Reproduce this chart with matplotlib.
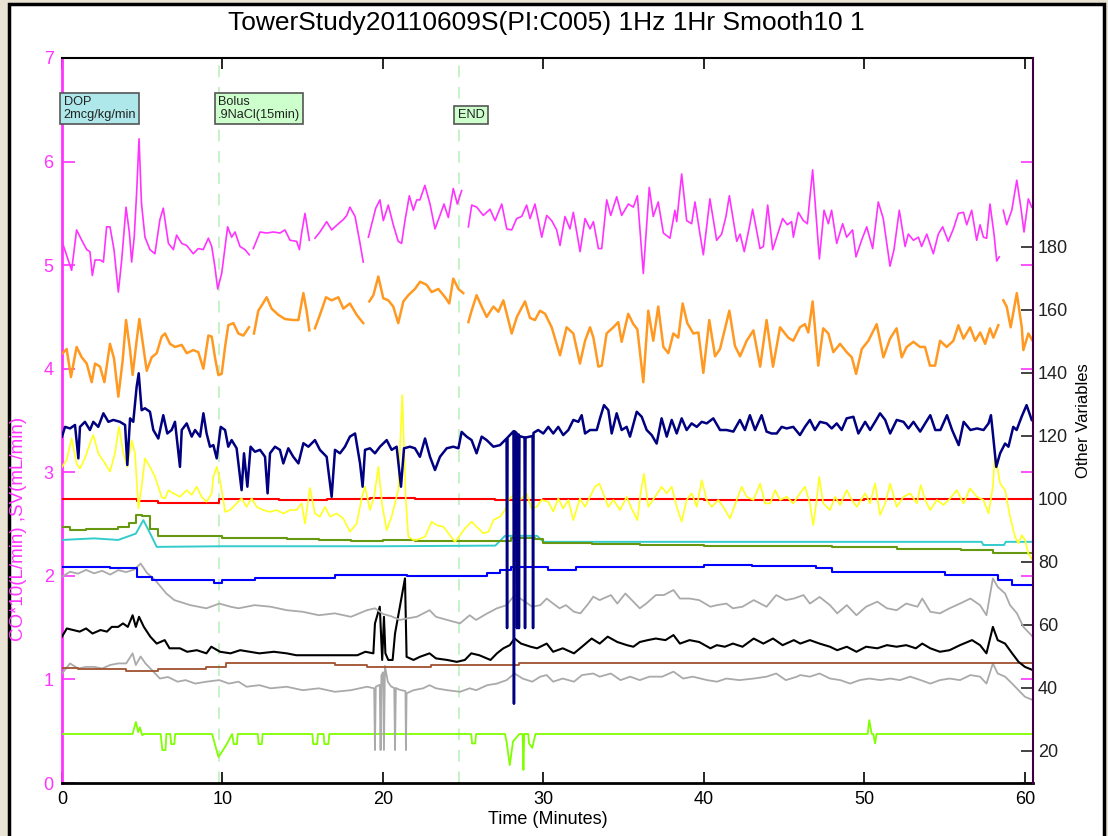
import numpy as np
import matplotlib.pyplot as plt
from matplotlib.patches import Rectangle

plt.rcParams['font.family'] = ['Liberation Sans', 'DejaVu Sans']

nan = np.nan

# ---- data (time in minutes) ----
# CO*10 (left axis)
co = [(0.04, 5.21), (0.6, 4.95), (0.91, 5.34), (1.23, 5.24), (1.54, 5.15), (1.74, 5.13), (1.89, 4.90),
      (2.06, 5.05), (2.37, 5.05), (2.58, 5.03), (2.78, 5.37), (2.99, 5.37), (3.24, 5.15), (3.51, 4.74),
      (3.72, 5.05), (3.99, 5.56), (4.2, 5.31), (4.34, 5.03), (4.5, 5.27), (4.65, 5.7), (4.8, 6.22),
      (4.95, 5.6), (5.17, 5.27), (5.48, 5.15), (5.79, 5.11), (6.1, 5.44), (6.31, 5.55), (6.63, 5.21),
      (6.94, 5.15), (7.14, 5.29), (7.46, 5.21), (7.77, 5.19), (8.18, 5.11), (8.49, 5.16), (8.8, 5.15),
      (9.12, 5.26), (9.33, 5.18), (9.53, 4.98), (9.7, 4.77), (9.95, 4.92), (10.32, 5.37), (10.57, 5.27),
      (10.78, 5.32), (11.09, 5.18), (11.4, 5.15), (11.67, 5.10), (11.8, nan), (11.92, 5.16), (12.34, 5.32),
      (12.75, 5.31), (13.17, 5.32), (13.58, 5.31), (13.89, 5.34), (14.21, 5.24), (14.62, 5.23), (14.79, 5.15),
      (14.93, 5.31), (15.14, 5.5), (15.41, 5.24), (15.6, nan), (15.76, 5.26), (16.07, 5.32), (16.49, 5.42),
      (16.8, 5.34), (17.22, 5.40), (17.53, 5.44), (17.74, 5.48), (17.94, 5.56), (18.26, 5.47), (18.57, 5.21),
      (18.77, 5.03), (18.9, nan), (19.09, 5.27), (19.29, 5.39), (19.55, 5.55), (19.81, 5.63), (20.02, 5.43),
      (20.33, 5.58), (20.64, 5.39), (20.95, 5.23), (21.16, 5.21), (21.37, 5.43), (21.64, 5.67), (21.89, 5.53),
      (22.1, 5.63), (22.3, 5.63), (22.61, 5.77), (22.93, 5.59), (23.24, 5.35), (23.55, 5.48), (23.8, 5.59),
      (24.07, 5.46), (24.38, 5.74), (24.63, 5.59), (24.9, 5.72), (25.05, nan), (25.32, 5.37), (25.53, 5.58),
      (25.84, 5.56), (26.25, 5.48), (26.67, 5.54), (26.98, 5.43), (27.4, 5.59), (27.71, 5.35), (28.02, 5.34),
      (28.33, 5.45), (28.64, 5.47), (28.95, 5.58), (29.16, 5.45), (29.47, 5.59), (29.89, 5.27), (30.2, 5.48),
      (30.51, 5.43), (30.82, 5.34), (31.03, 5.19), (31.34, 5.47), (31.65, 5.35), (31.86, 5.51), (32.28, 5.13),
      (32.59, 5.45), (32.9, 5.35), (33.11, 5.42), (33.42, 5.16), (33.63, 5.16), (33.94, 5.63), (34.19, 5.48),
      (34.56, 5.66), (34.87, 5.48), (35.29, 5.59), (35.6, 5.56), (35.85, 5.67), (36.22, 4.92), (36.59, 5.75),
      (36.84, 5.47), (37.15, 5.61), (37.47, 5.31), (37.88, 5.26), (38.19, 5.53), (38.3, 5.42), (38.61, 5.88),
      (38.92, 5.43), (39.23, 5.40), (39.44, 5.61), (39.7, 5.35), (39.96, 5.10), (40.37, 5.64), (40.79, 5.24),
      (41.1, 5.30), (41.37, 5.47), (41.58, 5.67), (42.04, 5.23), (42.25, 5.30), (42.51, 5.13), (42.83, 5.37),
      (43.03, 5.54), (43.49, 5.16), (43.7, 5.18), (43.97, 5.58), (44.28, 5.15), (44.53, 5.27), (44.9, 5.45),
      (45.19, 5.39), (45.46, 5.42), (45.57, 5.27), (45.88, 5.51), (46.19, 5.43), (46.44, 5.40), (46.77, 5.92),
      (47.19, 5.06), (47.48, 5.53), (47.75, 5.40), (47.95, 5.53), (48.27, 5.21), (48.64, 5.40), (48.89, 5.27),
      (49.26, 5.34), (49.47, 5.08), (49.82, 5.24), (50.14, 5.37), (50.51, 5.16), (50.86, 5.61), (51.17, 5.45),
      (51.59, 4.99), (51.84, 5.15), (52.17, 5.53), (52.53, 5.18), (52.73, 5.30), (53.05, 5.24), (53.36, 5.27),
      (53.56, 5.18), (53.88, 5.30), (54.29, 5.11), (54.6, 5.30), (54.87, 5.37), (55.22, 5.23), (55.54, 5.35),
      (55.85, 5.50), (56.17, 5.51), (56.37, 5.39), (56.68, 5.53), (56.99, 5.24), (57.2, 5.39), (57.41, 5.27),
      (57.61, 5.26), (57.82, 5.59), (58.07, 5.30), (58.24, 5.04), (58.4, 5.08), (58.52, nan), (58.65, 5.53),
      (58.86, 5.39), (59.18, 5.53), (59.49, 5.82), (59.74, 5.56), (59.94, 5.32), (60.21, 5.64), (60.42, 5.56)]

# SV (left axis)
sv = [(0.04, 4.15), (0.29, 4.19), (0.56, 3.92), (0.91, 4.21), (1.23, 4.11), (1.54, 4.05), (1.85, 3.87),
      (2.06, 4.05), (2.37, 4.02), (2.64, 3.87), (2.99, 4.24), (3.24, 4.10), (3.51, 3.73), (3.78, 4.08),
      (3.99, 4.47), (4.24, 4.18), (4.4, 3.94), (4.65, 4.27), (4.82, 4.48), (5.07, 4.21), (5.28, 3.98),
      (5.59, 4.11), (5.9, 4.15), (6.21, 4.31), (6.42, 4.34), (6.73, 4.24), (7.04, 4.21), (7.46, 4.23),
      (7.77, 4.15), (8.18, 4.18), (8.49, 4.16), (8.81, 4.00), (9.12, 4.32), (9.33, 4.31), (9.53, 4.11),
      (9.74, 3.94), (9.95, 3.95), (10.16, 4.21), (10.36, 4.42), (10.68, 4.44), (10.99, 4.34), (11.3, 4.32),
      (11.65, 4.40), (11.8, nan), (11.96, 4.34), (12.23, 4.56), (12.44, 4.61), (12.75, 4.69), (13.06, 4.58),
      (13.48, 4.52), (13.89, 4.48), (14.41, 4.47), (14.73, 4.47), (15.04, 4.73), (15.24, 4.56), (15.41, 4.37),
      (15.6, nan), (15.76, 4.39), (16.07, 4.52), (16.45, 4.69), (16.8, 4.66), (17.22, 4.69), (17.53, 4.58),
      (17.94, 4.63), (18.36, 4.52), (18.77, 4.44), (18.9, nan), (19.15, 4.65), (19.4, 4.71), (19.71, 4.89),
      (20.02, 4.68), (20.33, 4.66), (20.64, 4.60), (20.95, 4.44), (21.27, 4.65), (21.58, 4.71), (21.99, 4.77),
      (22.31, 4.84), (22.72, 4.81), (23.03, 4.74), (23.45, 4.77), (23.87, 4.69), (24.13, 4.63), (24.38, 4.87),
      (24.7, 4.77), (25.0, 4.73), (25.12, nan), (25.32, 4.45), (25.52, 4.56), (25.83, 4.71), (26.15, 4.60),
      (26.46, 4.50), (26.88, 4.60), (27.19, 4.55), (27.5, 4.66), (28.02, 4.34), (28.34, 4.50), (28.85, 4.65),
      (29.16, 4.49), (29.47, 4.47), (29.78, 4.56), (30.1, 4.53), (30.51, 4.40), (31.03, 4.13), (31.44, 4.40),
      (31.86, 4.34), (32.27, 4.05), (32.59, 4.27), (32.9, 4.40), (33.11, 4.30), (33.42, 4.02), (33.63, 4.03),
      (33.93, 4.34), (34.35, 4.40), (34.66, 4.45), (34.87, 4.26), (35.28, 4.53), (35.6, 4.43), (35.85, 4.38),
      (36.22, 3.87), (36.53, 4.56), (36.84, 4.27), (37.15, 4.60), (37.47, 4.21), (37.78, 4.15), (38.09, 4.34),
      (38.4, 4.30), (38.67, 4.63), (38.96, 4.44), (39.34, 4.34), (39.65, 4.35), (39.96, 3.96), (40.33, 4.47),
      (40.69, 4.12), (41.0, 4.19), (41.58, 4.56), (41.93, 4.22), (42.25, 4.12), (42.66, 4.27), (43.08, 4.37),
      (43.5, 4.02), (43.9, 4.47), (44.3, 4.02), (44.74, 4.40), (45.25, 4.30), (45.56, 4.27), (45.98, 4.40),
      (46.29, 4.43), (46.5, 4.35), (46.77, 4.65), (47.12, 4.03), (47.43, 4.39), (47.75, 4.34), (48.06, 4.16),
      (48.48, 4.24), (48.89, 4.16), (49.21, 4.11), (49.48, 3.95), (49.83, 4.19), (50.24, 4.27), (50.76, 4.43),
      (51.18, 4.11), (51.59, 4.29), (52.0, 4.39), (52.32, 4.11), (52.63, 4.21), (53.05, 4.26), (53.46, 4.21),
      (53.77, 4.21), (54.08, 4.03), (54.4, 4.03), (54.71, 4.27), (55.12, 4.21), (55.54, 4.27), (55.85, 4.42),
      (56.17, 4.29), (56.58, 4.40), (56.9, 4.27), (57.21, 4.35), (57.52, 4.24), (57.82, 4.39), (58.03, 4.30),
      (58.34, 4.42), (58.5, nan), (58.65, 4.66), (58.86, 4.60), (59.11, 4.40), (59.49, 4.73), (59.8, 4.40),
      (59.9, 4.18), (60.21, 4.34), (60.48, 4.27)]

# other variables (right axis)
navy = [(0, 119.8), (0.19, 122.9), (0.5, 122.4), (0.81, 123.5), (1.02, 112.9), (1.12, 122.9), (1.43, 124.5),
        (1.74, 121.9), (1.95, 124.5), (2.26, 122.9), (2.58, 127.2), (2.89, 124.5), (3.2, 125.1), (3.61, 124.5),
        (3.93, 123.5), (4.07, 110.8), (4.24, 125.6), (4.44, 124.5), (4.65, 135.6), (4.78, 139.9), (4.96, 128.2),
        (5.17, 128.8), (5.48, 127.7), (5.69, 121.9), (6.0, 119.2), (6.31, 126.6), (6.56, 120.8), (6.83, 121.9),
        (7.04, 124.5), (7.35, 110.2), (7.46, 121.9), (7.77, 124.0), (8.08, 119.8), (8.29, 121.9), (8.6, 119.8),
        (8.81, 127.2), (9.01, 120.8), (9.22, 116.6), (9.43, 117.1), (9.64, 112.9), (9.89, 122.9), (10.16, 121.9),
        (10.36, 116.6), (10.57, 118.7), (10.88, 116.1), (11.19, 102.8), (11.34, 114.5), (11.55, 103.9),
        (11.75, 116.6), (12.02, 115.0), (12.34, 115.6), (12.65, 113.4), (12.81, 101.8), (12.96, 114.5),
        (13.27, 116.6), (13.58, 115.6), (13.79, 111.3), (14.1, 116.1), (14.41, 113.4), (14.73, 111.3),
        (15.04, 117.7), (15.35, 116.6), (15.76, 118.7), (16.07, 115.6), (16.49, 113.4), (16.8, 100.7),
        (17.01, 115.6), (17.32, 114.5), (17.63, 116.6), (17.94, 119.8), (18.26, 120.8), (18.57, 111.3),
        (18.73, 103.9), (18.88, 115.6), (19.19, 116.1), (19.5, 114.5), (19.81, 116.6), (20.23, 118.7),
        (20.54, 115.6), (20.85, 116.6), (21.12, 103.9), (21.31, 116.1), (21.68, 116.6), (21.99, 116.1),
        (22.3, 113.4), (22.62, 119.2), (22.93, 113.4), (23.24, 109.2), (23.55, 113.4), (23.97, 116.1),
        (24.38, 116.6), (24.7, 116.1), (24.9, 121.3), (25.21, 119.8), (25.52, 118.7), (25.83, 114.5),
        (26.15, 119.8), (26.46, 118.7), (26.88, 116.6), (27.29, 117.1), (27.7, 119.2), (27.73, 59.0),
        (27.76, 119.5), (28.13, 121.5), (28.16, 35.0), (28.19, 121.5), (28.32, 121.0), (28.35, 59.0),
        (28.38, 120.5), (28.45, 120.5), (28.47, 59.0), (28.5, 120.0), (28.82, 119.5), (28.85, 59.0),
        (28.88, 119.5), (29.32, 120.0), (29.35, 59.0), (29.38, 121.0), (29.67, 121.9), (29.99, 120.8),
        (30.3, 122.9), (30.61, 120.8), (30.92, 122.9), (31.23, 120.3), (31.55, 121.9), (31.86, 125.1),
        (32.17, 124.5), (32.38, 126.6), (32.59, 120.8), (32.9, 121.9), (33.32, 121.9), (33.52, 125.6),
        (33.77, 129.8), (34.04, 128.2), (34.25, 120.8), (34.56, 127.2), (34.87, 121.9), (35.18, 122.9),
        (35.39, 119.8), (35.81, 127.7), (36.12, 126.1), (36.43, 121.9), (36.74, 120.3), (37.05, 117.6),
        (37.36, 125.6), (37.68, 119.8), (37.99, 125.1), (38.3, 120.8), (38.61, 125.6), (38.92, 121.9),
        (39.23, 124.0), (39.55, 122.9), (39.86, 124.5), (40.17, 124.0), (40.58, 125.6), (41.0, 121.9),
        (41.41, 121.9), (41.83, 121.4), (42.24, 125.1), (42.55, 121.9), (42.86, 126.6), (43.18, 121.9),
        (43.59, 126.6), (43.9, 121.4), (44.21, 120.8), (44.53, 120.8), (44.84, 122.9), (45.15, 122.4),
        (45.56, 122.9), (45.98, 120.3), (46.29, 122.9), (46.6, 125.1), (46.91, 121.9), (47.23, 124.5),
        (47.64, 124.0), (47.96, 122.4), (48.27, 124.0), (48.58, 121.9), (48.89, 125.6), (49.31, 126.1),
        (49.62, 120.8), (50.04, 124.5), (50.35, 121.9), (50.66, 124.5), (50.97, 127.2), (51.29, 125.1),
        (51.6, 120.8), (52.01, 125.1), (52.43, 124.5), (52.74, 122.4), (53.05, 124.5), (53.47, 121.4),
        (53.78, 124.0), (54.1, 126.6), (54.41, 121.9), (54.73, 121.9), (55.14, 126.6), (55.46, 121.9),
        (55.87, 117.1), (56.18, 124.5), (56.6, 121.9), (57.01, 122.4), (57.42, 121.9), (57.73, 124.0),
        (57.88, 126.6), (58.0, 120.8), (58.21, 110.2), (58.45, 114.5), (58.76, 117.6), (58.97, 116.6),
        (59.27, 122.9), (59.48, 121.9), (59.79, 126.1), (60.1, 129.8), (60.42, 125.1)]

yellow = [(0, 110.2), (0.29, 112.4), (0.6, 119.2), (0.91, 111.3), (1.12, 109.7), (1.43, 112.9), (1.74, 117.6),
          (1.95, 120.3), (2.26, 114.5), (2.68, 111.3), (2.99, 108.7), (3.3, 114.5), (3.55, 122.9), (3.82, 114.5),
          (4.07, 110.2), (4.34, 118.7), (4.55, 114.5), (4.76, 97.0), (4.96, 103.9), (5.17, 112.9), (5.48, 110.2),
          (5.79, 107.1), (6.0, 103.9), (6.21, 100.5), (6.42, 100.2), (6.63, 102.8), (6.94, 101.8), (7.35, 100.7),
          (7.77, 102.8), (8.08, 101.3), (8.39, 103.9), (8.7, 100.7), (9.01, 99.1), (9.33, 101.8), (9.43, 107.1),
          (9.64, 110.2), (9.84, 106.0), (10.05, 99.7), (10.16, 95.9), (10.47, 96.5), (10.88, 98.6), (11.19, 100.2),
          (11.5, 97.5), (11.82, 100.2), (12.13, 97.5), (12.54, 96.5), (12.96, 95.9), (13.37, 96.5), (13.79, 95.4),
          (14.21, 96.5), (14.62, 96.5), (14.93, 98.6), (15.14, 92.2), (15.45, 103.5), (15.76, 95.4), (16.07, 94.4),
          (16.39, 97.5), (16.7, 94.4), (17.11, 95.4), (17.53, 93.8), (17.94, 89.6), (18.36, 92.2), (18.67, 100.2),
          (18.88, 103.9), (19.19, 96.5), (19.45, 100.7), (19.71, 110.2), (19.95, 98.0), (20.23, 90.1),
          (20.54, 94.4), (20.95, 102.8), (21.2, 133.0), (21.42, 100.0), (21.58, 88.0), (21.89, 87.0), (22.1, 87.0),
          (22.62, 88.0), (23.03, 92.8), (23.34, 91.7), (23.76, 91.2), (24.17, 88.5), (24.48, 86.4), (24.8, 88.5),
          (25.11, 90.7), (25.52, 92.8), (25.83, 91.2), (26.25, 89.1), (26.57, 89.6), (26.88, 93.3), (27.29, 94.4),
          (27.6, 96.5), (27.81, 99.7), (28.22, 101.8), (28.53, 99.7), (28.95, 101.8), (29.26, 97.0), (29.57, 97.5),
          (29.88, 99.7), (30.3, 99.1), (30.61, 96.0), (30.92, 100.2), (31.23, 97.0), (31.55, 99.7), (31.86, 93.3),
          (32.27, 100.2), (32.59, 97.5), (32.9, 100.7), (33.21, 103.9), (33.48, 104.9), (33.72, 101.8),
          (34.04, 97.5), (34.35, 99.7), (34.77, 96.5), (35.18, 100.7), (35.49, 97.0), (35.85, 93.3),
          (36.05, 101.8), (36.26, 108.0), (36.53, 97.5), (36.95, 100.7), (37.36, 103.9), (37.68, 101.8),
          (37.99, 103.9), (38.3, 97.5), (38.61, 92.8), (38.92, 99.7), (39.23, 101.8), (39.55, 97.5),
          (39.86, 106.0), (40.17, 99.7), (40.48, 97.5), (40.89, 99.7), (41.2, 97.5), (41.62, 93.8), (42.04, 99.7),
          (42.35, 103.9), (42.66, 100.7), (43.08, 99.7), (43.5, 104.9), (43.81, 98.6), (44.12, 98.6),
          (44.43, 102.8), (44.74, 99.7), (45.15, 100.7), (45.56, 98.6), (45.98, 101.8), (46.29, 103.9),
          (46.6, 98.6), (46.81, 91.7), (47.02, 99.7), (47.18, 107.0), (47.43, 98.6), (47.85, 96.5), (48.17, 100.7),
          (48.48, 98.1), (48.89, 102.8), (49.21, 99.7), (49.52, 97.5), (50.04, 101.8), (50.35, 98.6),
          (50.66, 104.9), (50.97, 94.9), (51.29, 98.6), (51.6, 104.9), (52.01, 97.5), (52.43, 100.7),
          (52.85, 101.8), (53.26, 98.6), (53.51, 104.4), (53.78, 99.7), (54.1, 96.5), (54.51, 99.7),
          (54.92, 98.1), (55.34, 100.2), (55.75, 102.8), (56.17, 98.6), (56.58, 103.4), (57.0, 100.7),
          (57.41, 99.7), (57.73, 95.4), (58.0, 103.9), (58.13, 114.5), (58.45, 104.9), (58.76, 102.8),
          (59.07, 94.4), (59.38, 88.0), (59.59, 85.9), (59.8, 88.5), (60.0, 87.0), (60.21, 82.7), (60.48, 80.6)]

red = [(0, 100.0), (4.7, 99.5), (6.0, 98.8), (9.8, 100.0), (13.5, 99.6), (16.5, 100.0), (19.2, 100.4),
       (22.0, 100.0), (27.0, 99.6), (30.0, 100.0), (40.0, 99.6), (50.0, 100.0), (60.5, 100.0)]

olive = [(0, 91.0), (0.5, 90.3), (1.5, 90.5), (2.5, 90.5), (3.5, 91.2), (4.2, 92.5), (4.6, 95.0), (5.0, 94.5),
         (5.5, 90.5), (6.0, 88.3), (8.0, 88.3), (10.0, 87.6), (12.0, 87.6), (14.0, 87.3), (16.0, 87.0),
         (18.0, 86.8), (20.0, 87.0), (22.0, 86.6), (27.0, 86.6), (28.0, 87.6), (29.5, 87.3), (30.0, 86.0),
         (33.0, 85.8), (36.0, 85.5), (40.0, 85.0), (44.0, 85.0), (48.0, 84.8), (52.0, 84.0), (56.0, 83.8),
         (58.0, 82.8), (60.5, 82.5)]

cyan = [(0, 87.0), (2.0, 87.5), (3.5, 87.0), (4.6, 89.0), (5.07, 93.3), (5.5, 89.0), (5.9, 84.8), (10.0, 85.0),
        (20.0, 85.0), (27.0, 85.2), (27.6, 88.3), (29.6, 88.3), (30.0, 86.4), (45.0, 86.4), (57.3, 86.4),
        (57.4, 85.4), (58.7, 85.4), (58.8, 86.4), (60.5, 86.4)]

blue = [(0, 78.5), (3.0, 78.0), (4.7, 75.3), (5.6, 74.3), (9.5, 73.2), (10.0, 74.3), (12.0, 74.8), (17.0, 75.8),
        (21.5, 75.5), (26.5, 76.4), (27.3, 77.4), (28.0, 78.3), (30.3, 77.4), (32.0, 78.3), (40.0, 79.0),
        (43.0, 78.7), (47.0, 78.0), (48.0, 76.9), (55.0, 75.8), (58.3, 74.3), (59.2, 72.7), (60.5, 72.7)]

gray_hi = [(0, 75.3), (0.5, 76.9), (1.0, 76.3), (1.5, 77.5), (2.0, 76.4), (2.5, 77.2), (3.0, 76.0), (3.5, 77.4),
           (4.0, 76.8), (4.5, 77.6), (4.9, 79.5), (5.3, 76.5), (5.8, 74.3), (6.5, 70.0), (7.0, 67.9), (8.0, 66.3),
           (9.0, 65.3), (9.8, 66.8), (10.5, 65.8), (11.0, 65.3), (12.0, 66.3), (13.0, 65.8), (14.0, 64.7),
           (15.0, 64.2), (16.0, 63.1), (17.0, 63.7), (18.0, 62.6), (19.0, 64.7), (19.5, 65.3), (20.0, 63.5),
           (20.5, 62.8), (21.06, 61.6), (21.5, 62.1), (22.1, 62.6), (22.9, 64.7), (23.3, 62.6), (24.0, 61.6),
           (24.8, 60.5), (25.4, 63.1), (25.8, 61.6), (26.5, 63.7), (27.1, 65.3), (27.7, 66.3), (28.2, 69.5),
           (28.7, 67.9), (29.3, 65.8), (29.8, 66.3), (30.2, 68.4), (30.6, 66.8), (31.0, 65.3), (31.4, 66.3),
           (31.9, 64.2), (32.3, 63.7), (32.8, 66.8), (33.1, 69.0), (33.5, 67.9), (34.2, 69.5), (34.6, 66.8),
           (35.1, 70.0), (35.6, 67.4), (36.0, 65.3), (36.4, 66.8), (37.0, 69.5), (37.5, 69.5), (38.1, 71.1),
           (38.5, 68.4), (39.1, 68.4), (39.7, 67.9), (40.4, 65.8), (40.8, 66.3), (41.4, 66.8), (41.8, 65.3),
           (42.4, 65.8), (43.1, 67.9), (43.9, 65.8), (44.5, 69.5), (45.1, 67.9), (45.6, 68.4), (46.2, 69.5),
           (46.6, 66.8), (47.2, 68.9), (47.85, 66.3), (48.3, 63.7), (48.9, 66.3), (49.5, 63.1), (50.1, 65.8),
           (50.8, 67.4), (51.4, 65.3), (52.0, 64.7), (52.6, 66.8), (53.3, 65.8), (53.6, 68.4), (54.1, 64.2),
           (54.7, 63.7), (55.3, 65.3), (55.95, 66.8), (56.6, 68.4), (57.2, 66.3), (57.6, 63.1), (58.0, 74.8),
           (58.3, 72.1), (58.76, 70.0), (59.07, 66.3), (59.5, 63.7), (59.9, 59.4), (60.48, 56.3)]

black = [(0, 56.3), (0.3, 58.9), (0.7, 58.4), (1.1, 57.9), (1.5, 58.9), (1.9, 57.3), (2.4, 58.4), (2.8, 57.9),
         (3.1, 59.4), (3.5, 59.4), (3.8, 60.5), (4.1, 59.4), (4.4, 63.1), (4.6, 59.4), (4.8, 62.6), (5.1, 59.4),
         (5.5, 56.3), (5.9, 54.1), (6.4, 55.2), (6.7, 52.6), (7.35, 52.6), (7.8, 51.5), (8.4, 52.0), (9.0, 51.0),
         (9.3, 53.1), (9.85, 51.5), (10.5, 51.0), (11.1, 52.0), (11.7, 51.5), (12.3, 51.0), (13.2, 51.5),
         (14.0, 51.0), (14.6, 50.4), (15.2, 50.4), (16.1, 50.4), (16.9, 50.4), (17.7, 50.4), (18.4, 50.4),
         (18.9, 51.5), (19.4, 51.0), (19.5, 60.5), (19.8, 65.8), (19.95, 48.9), (20.06, 62.6), (20.15, 51.0),
         (20.33, 48.9), (20.6, 48.9), (20.75, 57.3), (21.37, 74.8), (21.47, 49.9), (21.9, 48.9), (22.3, 49.9),
         (22.9, 51.0), (23.3, 49.4), (24.0, 48.9), (24.6, 48.3), (25.1, 48.9), (25.5, 51.0), (26.0, 50.4),
         (26.7, 48.9), (27.1, 51.0), (27.5, 52.6), (27.9, 53.6), (28.2, 55.7), (28.6, 54.1), (29.2, 53.1),
         (29.6, 52.6), (30.2, 54.1), (30.6, 51.5), (31.2, 52.6), (31.9, 51.0), (32.4, 53.1), (33.0, 55.7),
         (33.5, 54.1), (34.0, 56.3), (34.6, 54.6), (35.2, 53.6), (35.6, 53.1), (36.0, 54.6), (36.5, 55.2),
         (37.0, 55.7), (37.6, 55.2), (38.1, 56.8), (38.5, 54.1), (39.1, 55.2), (39.7, 54.6), (40.4, 52.6),
         (40.8, 53.6), (41.3, 53.1), (41.8, 54.1), (42.4, 53.1), (43.1, 55.7), (43.7, 54.1), (44.3, 55.7),
         (44.9, 53.6), (45.6, 55.2), (46.0, 54.1), (46.6, 55.2), (47.2, 54.1), (47.85, 53.1), (48.3, 52.0),
         (48.9, 53.1), (49.5, 51.5), (50.1, 53.1), (50.8, 52.6), (51.4, 53.6), (52.0, 53.1), (52.6, 53.6),
         (53.2, 52.6), (53.6, 54.1), (54.1, 52.6), (54.7, 51.5), (55.3, 52.0), (55.95, 53.6), (56.7, 55.2),
         (57.2, 53.6), (57.6, 51.0), (58.0, 59.4), (58.3, 55.2), (58.76, 54.1), (59.2, 51.0), (59.6, 48.3),
         (60.0, 46.7), (60.48, 45.7)]

brown = [(0, 46.2), (1.0, 46.0), (4.0, 45.5), (6.0, 46.0), (9.0, 46.7), (10.2, 47.8), (17.0, 47.3),
         (19.0, 46.7), (23.0, 47.3), (28.5, 48.0), (60.5, 48.0)]

gray_lo = [(0, 44.6), (0.5, 47.8), (1.0, 46.2), (1.5, 46.7), (2.0, 46.7), (2.5, 46.2), (3.0, 47.3), (3.5, 47.8),
           (4.0, 47.8), (4.4, 51.0), (4.6, 47.3), (4.9, 50.0), (5.2, 47.8), (5.6, 45.7), (6.1, 43.0), (6.6, 43.5),
           (7.2, 42.0), (7.7, 42.5), (8.3, 41.4), (9.0, 42.0), (9.8, 42.5), (10.4, 41.4), (11.0, 42.0),
           (11.5, 40.4), (12.3, 40.9), (13.0, 39.9), (14.0, 40.4), (15.0, 39.3), (16.0, 39.9), (17.0, 38.8),
           (18.0, 39.3), (19.0, 40.4), (19.45, 39.9), (19.5, 20.3), (19.55, 40.4), (19.8, 41.0), (19.85, 20.3),
           (19.9, 44.0), (20.0, 45.0), (20.06, 20.3), (20.12, 47.0), (20.3, 42.0), (20.5, 40.5), (20.7, 40.0),
           (20.75, 20.3), (20.8, 40.0), (21.0, 39.5), (21.4, 39.0), (21.43, 20.3), (21.47, 38.3), (21.9, 39.3),
           (22.5, 39.9), (22.9, 40.9), (23.3, 39.9), (24.0, 39.3), (24.8, 38.8), (25.4, 39.9), (25.8, 39.3),
           (26.5, 40.9), (27.1, 41.4), (27.7, 42.5), (28.2, 44.6), (28.7, 43.0), (29.3, 42.0), (29.8, 43.6),
           (30.2, 44.1), (30.6, 42.0), (31.2, 43.0), (31.9, 42.0), (32.4, 44.1), (33.1, 44.6), (33.5, 43.6),
           (34.2, 44.6), (34.8, 42.5), (35.4, 43.6), (36.0, 42.5), (36.6, 43.6), (37.4, 43.6), (38.1, 45.2),
           (38.7, 43.0), (39.3, 43.6), (40.2, 42.5), (40.8, 42.0), (41.4, 43.0), (42.2, 42.5), (43.1, 43.0),
           (43.9, 43.6), (44.5, 44.6), (45.1, 42.5), (45.8, 43.6), (46.0, 44.1), (46.6, 43.6), (47.2, 44.6),
           (47.85, 43.0), (48.5, 42.5), (49.1, 41.4), (49.7, 42.5), (50.3, 43.0), (51.0, 42.5), (51.6, 43.0),
           (52.2, 42.5), (52.85, 43.6), (53.5, 42.5), (54.1, 41.4), (54.7, 42.5), (55.3, 43.0), (55.95, 42.5),
           (56.6, 44.1), (57.2, 43.6), (57.6, 41.4), (58.0, 47.8), (58.3, 44.6), (58.76, 43.6), (59.2, 41.4),
           (59.6, 39.3), (60.0, 37.2), (60.48, 36.2)]

lime = [(0, 25.4), (4.4, 25.4), (4.6, 29.2), (4.75, 26.0), (4.85, 27.5), (5.0, 25.0), (5.1, 25.4), (6.15, 25.4),
        (6.25, 20.3), (6.45, 20.3), (6.5, 25.4), (6.75, 25.4), (6.8, 22.2), (7.0, 22.2), (7.05, 25.4),
        (9.35, 25.4), (9.75, 18.1), (10.0, 20.0), (10.3, 22.5), (10.6, 25.4), (10.7, 22.2), (10.9, 22.2),
        (10.95, 25.4), (12.2, 25.4), (12.25, 22.2), (12.45, 22.2), (12.5, 25.4), (15.6, 25.4), (15.65, 22.2),
        (15.9, 22.2), (15.95, 25.4), (16.3, 25.4), (16.35, 22.2), (16.6, 22.2), (16.65, 25.4), (25.5, 25.4),
        (25.55, 22.4), (25.75, 22.4), (25.8, 25.4), (27.6, 25.4), (27.7, 23.0), (27.9, 15.5), (28.1, 23.0),
        (28.5, 25.4), (28.7, 25.4), (28.75, 14.0), (28.8, 25.4), (29.05, 25.4), (29.1, 22.4), (29.3, 21.0),
        (29.5, 25.4), (50.2, 25.4), (50.3, 29.8), (50.45, 25.4), (50.55, 25.4), (50.66, 22.4), (50.75, 25.4),
        (60.5, 25.4)]

events = [(0.1, 'DOP\n2mcg/kg/min', '#aee8ea'), (9.72, 'Bolus\n.9NaCl(15min)', '#ccffcc'),
          (24.65, 'END', '#ccffcc')]
event_lines = [9.8, 24.75]

MAG = '#ff33ff'

fig = plt.figure(figsize=(11.08, 8.36), dpi=100, facecolor='#e9e3d3')
fig.patches.append(Rectangle((9 / 1108, -0.02), 1095 / 1108, 1.02 - 4 / 836, transform=fig.transFigure,
                             facecolor='white', edgecolor='black', lw=2.5, zorder=-5))

ax = fig.add_axes([62 / 1108, 1 - 783 / 836, 971 / 1108, 725 / 836])
ax.set_facecolor('none')
ax2 = ax.twinx()


def xy(pairs):
    t, v = zip(*pairs)
    return np.array(t), np.array(v)


for x0 in event_lines:
    ax.axvline(x0, color='#c6f2c6', lw=1.4, ls=(0, (6, 5)), zorder=1)

ax2.plot(*xy(lime), color='#7fff00', lw=1.3)
ax2.plot(*xy(gray_lo), color='#aaaaaa', lw=1.3)
ax2.plot(*xy(brown), color='#a0522d', lw=1.3, drawstyle='steps-post')
ax2.plot(*xy(black), color='black', lw=1.5)
ax2.plot(*xy(gray_hi), color='#aaaaaa', lw=1.3)
ax2.plot(*xy(blue), color='#0000ff', lw=1.5, drawstyle='steps-post')
ax2.plot(*xy(cyan), color='#33cccc', lw=1.4)
ax2.plot(*xy(olive), color='#669911', lw=1.5, drawstyle='steps-post')
ax2.plot(*xy(red), color='#ff0000', lw=1.5, drawstyle='steps-post')
ax2.plot(*xy(yellow), color='#ffff22', lw=1.2)
ax2.plot(*xy(navy), color='#000080', lw=1.8)
ax.plot(*xy(sv), color='#ff9922', lw=1.8, zorder=3)
ax.plot(*xy(co), color=MAG, lw=1.2, zorder=3)

for x0, label, fc in events:
    ax.text(x0, 6.39, label, fontsize=9.2, ha='left', va='bottom', color='#222222', linespacing=1.1,
            bbox=dict(boxstyle='square,pad=0.25', fc=fc, ec='#555555', lw=1.2), zorder=6)

ax.set_xlim(0, 60.5)
ax.set_ylim(0, 7)
ax2.set_ylim(9.84, 240)
ax.set_xticks(range(0, 61, 10))
ax.set_yticks(range(0, 8))
ax2.set_yticks(range(20, 181, 20))

ax.tick_params(axis='x', direction='in', length=8, width=1.2, top=True, labelsize=13, pad=6)
ax.tick_params(axis='y', direction='in', length=9, width=1.2, left=True, right=True,
               colors=MAG, labelsize=13, pad=6)
ax2.tick_params(axis='y', direction='in', length=9, width=1.2, colors='#222222', labelsize=13)

ax.spines['left'].set_color(MAG)
ax.spines['left'].set_linewidth(2)
ax.spines['bottom'].set_linewidth(2)
ax.spines['top'].set_linewidth(1.5)
ax.spines['right'].set_visible(False)
for s in ('left', 'top', 'bottom'):
    ax2.spines[s].set_visible(False)
ax2.spines['right'].set_color('#400040')
ax2.spines['right'].set_linewidth(1.5)

ax.set_xlabel('Time (Minutes)', fontsize=13, labelpad=2)
ax.set_ylabel('CO*10(L/min) ,SV(mL/min)', fontsize=13.5, color=MAG)
ax.yaxis.set_label_coords(-0.036, 0.35)
ax2.set_ylabel('Other Variables', fontsize=12, labelpad=6)

fig.text(546 / 1108, 1 - 23 / 836, 'TowerStudy20110609S(PI:C005) 1Hz 1Hr Smooth10 1', fontsize=19,
         ha='center', va='center')

fig.savefig('out.png', dpi=100, facecolor=fig.get_facecolor())
